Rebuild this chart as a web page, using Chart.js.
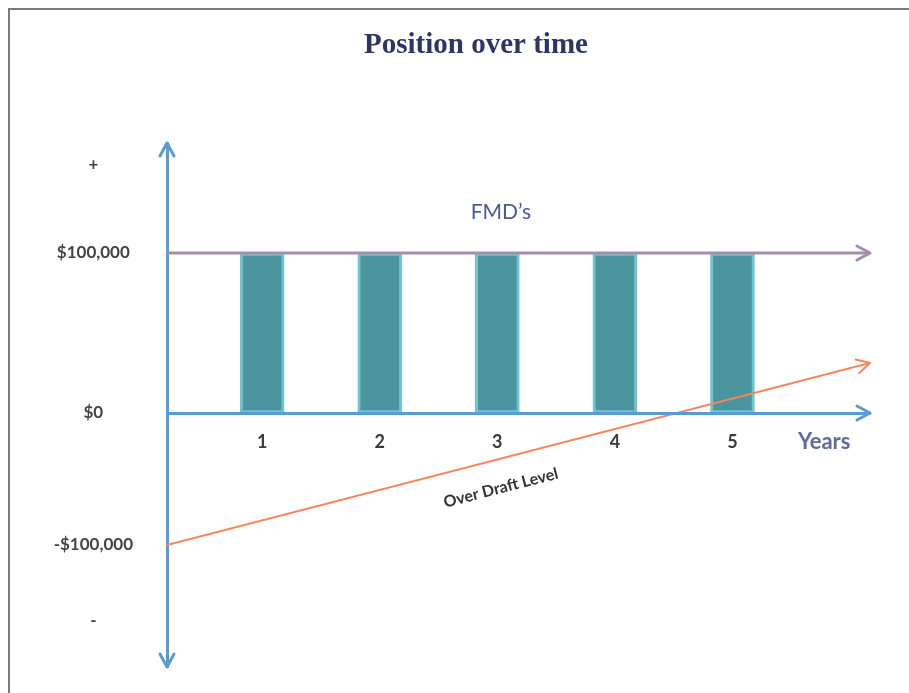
<!DOCTYPE html>
<html lang="en">
<head>
  <meta charset="UTF-8">
  <title>Position over time</title>
  <script src="https://cdn.jsdelivr.net/npm/chart.js"></script>
  <style>
    body { margin: 0; background: #fff; }
    .wrap { position: relative; width: 909px; height: 693px; }
    .frame { position: absolute; left: 8px; top: 8px; right: 0; bottom: 0; border-top: 2px solid #7a7a7a; border-left: 2px solid #7a7a7a; pointer-events: none; }
    canvas { position: absolute; left: 0; top: 0; }
  </style>
</head>
<body>
  <div class="wrap">
    <canvas id="posChart" width="909" height="693"></canvas>
    <div class="frame"></div>
  </div>

  <script>
    // Chart data
    const years = [1, 2, 3, 4, 5];
    const yearLabels = ['1', '2', '3', '4', '5'];
    const fmdValues = [100000, 100000, 100000, 100000, 100000];

    // y axis is schematic, the labels sit at these levels
    const yTickValues = [155000, 100000, 0, -82500, -129400];
    const yTickLabels = ['+', '$100,000', '$0', '-$100,000', '-'];

    // FMD level line and over draft line (start at y axis, end at arrow)
    const lineX = [0.19, 6.17];
    const fmdLevel = [100000, 100000];
    const overDraft = [-82500, 31250];

    const xMin = 0.19, xMax = 6.17, yMin = -158750, yMax = 168750;

    const blue = '#5b9bd5';
    const mauve = '#a38fa9';
    const orange = '#f4875f';

    // Open chevron arrow head
    function arrowHead(ctx, tx, ty, dx, dy, color, lw) {
      const len = Math.hypot(dx, dy);
      dx /= len; dy /= len;
      const L = 13, W = 7;
      const bx = tx - dx * L, by = ty - dy * L;
      ctx.save();
      ctx.strokeStyle = color;
      ctx.lineWidth = lw;
      ctx.lineCap = 'round';
      ctx.lineJoin = 'round';
      ctx.beginPath();
      ctx.moveTo(bx - dy * W, by + dx * W);
      ctx.lineTo(tx, ty);
      ctx.lineTo(bx + dy * W, by - dx * W);
      ctx.stroke();
      ctx.restore();
    }

    const decorations = {
      id: 'decorations',
      afterDraw(chart) {
        const { ctx, scales: { x, y } } = chart;
        const x0 = x.getPixelForValue(xMin);
        const x1 = x.getPixelForValue(xMax);

        // axis arrows
        arrowHead(ctx, x0, y.getPixelForValue(yMax), 0, -1, blue, 3);
        arrowHead(ctx, x0, y.getPixelForValue(yMin), 0, 1, blue, 3);
        arrowHead(ctx, x1, y.getPixelForValue(0), 1, 0, blue, 3);
        arrowHead(ctx, x1, y.getPixelForValue(fmdLevel[1]), 1, 0, mauve, 3);

        const ox0 = x.getPixelForValue(lineX[0]), oy0 = y.getPixelForValue(overDraft[0]);
        const ox1 = x.getPixelForValue(lineX[1]), oy1 = y.getPixelForValue(overDraft[1]);
        arrowHead(ctx, ox1, oy1, ox1 - ox0, oy1 - oy0, orange, 2);

        ctx.save();
        ctx.textAlign = 'center';
        ctx.textBaseline = 'middle';

        ctx.fillStyle = '#2c3566';
        ctx.font = 'bold 29px "Liberation Serif"';
        ctx.fillText('Position over time', 476, 46);

        ctx.fillStyle = '#4b5b8c';
        ctx.font = '21px Lato';
        ctx.fillText('FMD’s', x.getPixelForValue(3.03), y.getPixelForValue(125600));

        ctx.fillStyle = '#5b6d9b';
        ctx.font = 'bold 22px Lato';
        ctx.fillText('Years', x.getPixelForValue(5.78), y.getPixelForValue(-18125));

        ctx.translate(x.getPixelForValue(3.03), y.getPixelForValue(-46875));
        ctx.rotate(Math.atan2(oy1 - oy0, ox1 - ox0));
        ctx.fillStyle = '#333';
        ctx.font = 'bold 16px Lato';
        ctx.fillText('Over Draft Level', 0, 0);
        ctx.restore();
      }
    };

    const ctx = document.getElementById('posChart').getContext('2d');
    const chart = new Chart(ctx, {
      type: 'bar',
      data: {
        datasets: [
          {
            type: 'line',
            data: lineX.map((v, i) => ({ x: v, y: overDraft[i] })),
            borderColor: orange,
            borderWidth: 2,
            pointRadius: 0
          },
          {
            type: 'line',
            data: lineX.map((v, i) => ({ x: v, y: fmdLevel[i] })),
            borderColor: mauve,
            borderWidth: 3,
            pointRadius: 0
          },
          {
            data: years.map((v, i) => ({ x: v, y: fmdValues[i] })),
            backgroundColor: '#4a959e',
            borderColor: '#6fc5cf',
            borderWidth: 3,
            borderSkipped: false,
            barThickness: 44
          }
        ]
      },
      options: {
        responsive: false,
        animation: false,
        layout: { padding: { top: 143, right: 39, bottom: 26, left: 0 } },
        plugins: {
          legend: { display: false },
          tooltip: { enabled: false }
        },
        scales: {
          x: {
            type: 'linear',
            position: { y: 0 },
            offset: false,
            min: xMin,
            max: xMax,
            grid: { display: false },
            border: { display: true, color: blue, width: 3, z: 1 },
            afterFit: s => { s.height = 0; },
            afterBuildTicks: s => { s.ticks = years.map(v => ({ value: v })); },
            ticks: {
              padding: 10,
              color: '#3a3a3a',
              font: { family: 'Lato', size: 18, weight: 'bold' },
              callback: (v, i) => yearLabels[i]
            }
          },
          y: {
            min: yMin,
            max: yMax,
            grid: { display: false },
            border: { display: true, color: blue, width: 3 },
            afterFit: s => { s.width = 167; s.paddingTop = 0; s.paddingBottom = 0; },
            afterBuildTicks: s => { s.ticks = yTickValues.map(v => ({ value: v })); },
            ticks: {
              padding: 26,
              crossAlign: 'center',
              color: '#444',
              font: { family: 'Lato', size: 17, weight: 'bold' },
              callback: (v, i) => yTickLabels[i]
            }
          }
        }
      },
      plugins: [decorations]
    });
  </script>
</body>
</html>
